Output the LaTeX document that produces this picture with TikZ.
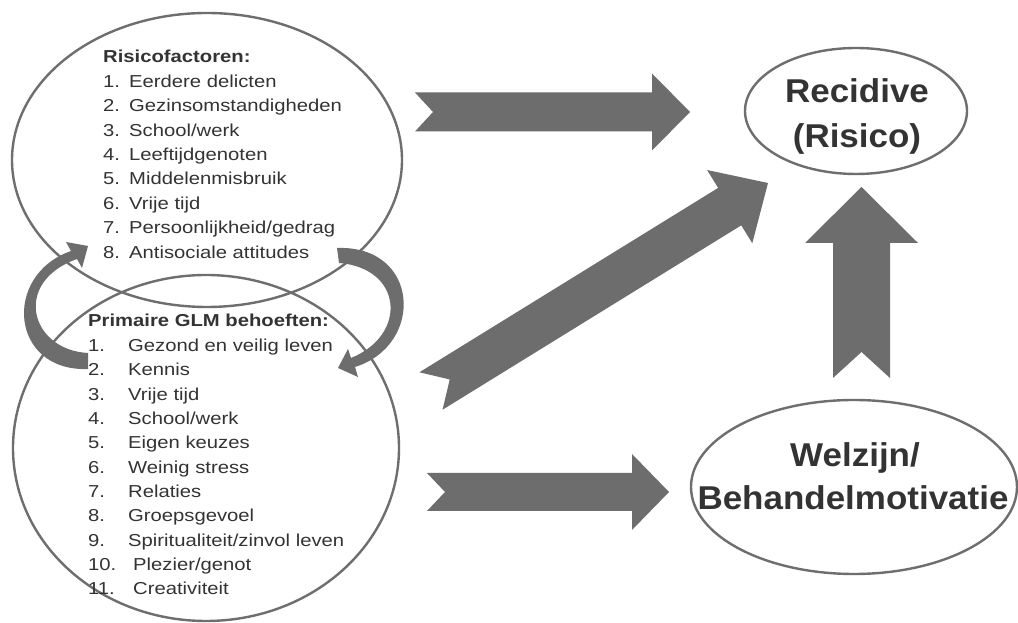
\documentclass[tikz,border=0pt]{standalone}
\usepackage{fontspec}
\setmainfont{Liberation Sans}
\newfontfamily\listfont{Liberation Sans}[FakeStretch=1.17]
\newfontfamily\bigfont{Liberation Sans}[FakeStretch=1.06]
\usetikzlibrary{calc,shapes.geometric}
\definecolor{txt}{HTML}{333333}
\definecolor{edge}{HTML}{6E6E6E}
\definecolor{afill}{HTML}{6D6D6D}
\tikzset{
  ring/.style={draw=edge, line width=2.4pt, ellipse, inner sep=0pt},
  arrowfill/.style={fill=afill},
  listtext/.style={anchor=base west, inner sep=0pt, text=txt, font=\listfont\fontsize{17.3}{20}\selectfont},
  listtitle/.style={listtext, font=\listfont\bfseries\fontsize{17.3}{20}\selectfont},
  bigtext/.style={anchor=base, inner sep=0pt, text=txt, font=\bigfont\bfseries\fontsize{33}{38}\selectfont},
}
\newcommand{\blockarrow}[5]{%
  \coordinate (#1h) at ($(#1p)!#4!(#1t)$);
  \fill[arrowfill] ($(#1t)!#2!90:(#1p)$) -- ($(#1h)!#2!90:(#1p)$) -- ($(#1h)!#3!90:(#1p)$) -- (#1p)
     -- ($(#1h)!#3!-90:(#1p)$) -- ($(#1h)!#2!-90:(#1p)$) -- ($(#1t)!#2!-90:(#1p)$) -- ($(#1t)!#5!(#1p)$) -- cycle;}
\begin{document}
\begin{tikzpicture}[x=1pt,y=1pt]
\fill[white] (0,0) rectangle (1018,623);
\useasboundingbox (0,0) rectangle (1018,623);
% ellipses
\node[ring, minimum width=390pt, minimum height=294pt] (risk) at (207,463) {};
\node[ring, minimum width=386pt, minimum height=346pt] (glm) at (206,175) {};
\node[ring, minimum width=222pt, minimum height=126pt] (recid) at (856,512) {};
\node[ring, minimum width=326pt, minimum height=174pt] (welz) at (854,136) {};
% block arrows
\coordinate (at) at (415,511); \coordinate (ap) at (690,511);
\blockarrow{a}{19.5pt}{38.5pt}{38pt}{18pt}
\coordinate (dt) at (431,232); \coordinate (dp) at (768,440);
\blockarrow{d}{22pt}{43pt}{45pt}{22pt}
\coordinate (bt) at (427,131); \coordinate (bp) at (669,131);
\blockarrow{b}{19pt}{38pt}{37pt}{18pt}
\coordinate (vt) at (861.5,245); \coordinate (vp) at (861.5,436);
\blockarrow{v}{28.5pt}{56.5pt}{56pt}{26pt}
% curved arrows
\fill[arrowfill] (88,270) .. controls (30,273) and (12,341) .. (77,364) -- (82,355) -- (88,377) -- (66,381) -- (71,372)
   .. controls (2,348) and (10,251) .. (88,254) -- cycle;
\fill[arrowfill] (337,375) .. controls (420,378) and (425,278) .. (355,256) -- (358,246) -- (338,255) -- (348,274) -- (351,265)
   .. controls (408,288) and (403,355) .. (339,360) -- cycle;
% top list
\node[listtitle] (rt) at (103,560) {Risicofactoren:};
\foreach \i/\t in {1/{Eerdere delicten},2/{Gezinsomstandigheden},3/{School/werk},4/{Leeftijdgenoten},5/{Middelenmisbruik},6/{Vrije tijd},7/{Persoonlijkheid/gedrag},8/{Antisociale attitudes}}
  \node[listtext] (r\i) at (103,{535.7-24.4*(\i-1)}) {\makebox[26pt][l]{\i.}\t};
% bottom list
\node[listtitle] (gt) at (88,296.3) {Primaire GLM behoeften:};
\foreach \i/\t in {1/{Gezond en veilig leven},2/{Kennis},3/{Vrije tijd},4/{School/werk},5/{Eigen keuzes},6/{Weinig stress},7/{Relaties},8/{Groepsgevoel},9/{Spiritualiteit/zinvol leven}}
  \node[listtext] (g\i) at (88,{271.3-24.3*(\i-1)}) {\makebox[40pt][l]{\i.}\t};
\node[listtext] (g10) at (88,{271.3-24.3*9}) {\makebox[45pt][l]{10.}Plezier/genot};
\node[listtext] (g11) at (88,{271.3-24.3*10}) {\makebox[45pt][l]{11.}Creativiteit};
% right texts
\node[bigtext] (rc1) at (857,520) {Recidive};
\node[bigtext] (rc2) at (857,475) {(Risico)};
\node[bigtext] (w1) at (855,156) {Welzijn/};
\node[bigtext] (w2) at (853,113) {Behandelmotivatie};
\end{tikzpicture}
\end{document}
